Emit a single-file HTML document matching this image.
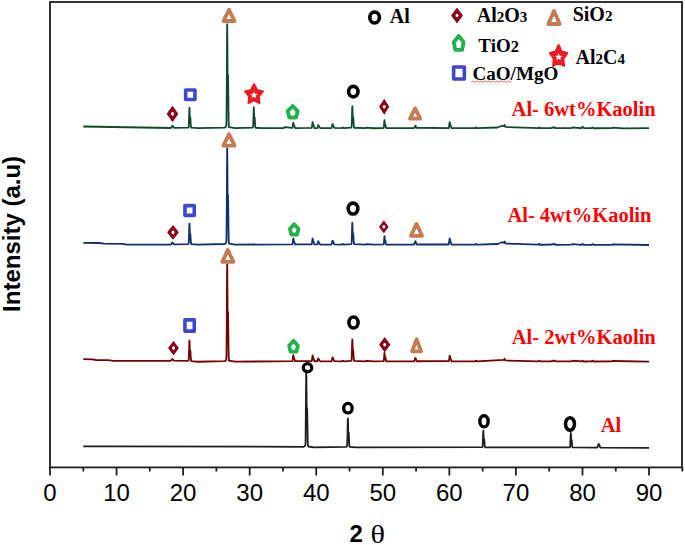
<!DOCTYPE html>
<html><head><meta charset="utf-8"><style>
html,body{margin:0;padding:0;background:#fff;width:685px;height:545px;overflow:hidden}
svg{display:block}
</style></head><body>
<svg width="685" height="545" viewBox="0 0 685 545">
<rect width="685" height="545" fill="#fff"/>
<rect x="50" y="2" width="632" height="465.4" fill="none" stroke="#1e1e1e" stroke-width="1.8"/>
<path d="M50 467V475.5 M116.56 467V475.5 M183.12 467V475.5 M249.68 467V475.5 M316.24 467V475.5 M382.8 467V475.5 M449.36 467V475.5 M515.92 467V475.5 M582.48 467V475.5 M649.04 467V475.5 M83.28 467V471.5 M149.84 467V471.5 M216.4 467V471.5 M282.96 467V471.5 M349.52 467V471.5 M416.08 467V471.5 M482.64 467V471.5 M549.2 467V471.5 M615.76 467V471.5 M682.32 467V471.5" stroke="#1e1e1e" stroke-width="1.8" fill="none"/>
<g font-family="'Liberation Sans', sans-serif" font-size="24" fill="#000"><text x="50" y="501" text-anchor="middle">0</text><text x="116.56" y="501" text-anchor="middle">10</text><text x="183.12" y="501" text-anchor="middle">20</text><text x="249.68" y="501" text-anchor="middle">30</text><text x="316.24" y="501" text-anchor="middle">40</text><text x="382.8" y="501" text-anchor="middle">50</text><text x="449.36" y="501" text-anchor="middle">60</text><text x="515.92" y="501" text-anchor="middle">70</text><text x="582.48" y="501" text-anchor="middle">80</text><text x="649.04" y="501" text-anchor="middle">90</text></g>
<text x="349.5" y="542.3" font-family="'Liberation Sans', sans-serif" font-weight="bold" font-size="24">2</text>
<text transform="translate(370.6,542.6) scale(1.26,1.05)" font-family="'Liberation Serif', serif" font-size="24">θ</text>
<text transform="translate(19.95,311.9) rotate(-90)" font-family="'Liberation Sans', sans-serif" font-weight="bold" font-size="24">Intensity (a.u)</text>
<g fill="none" stroke-width="1.8" stroke-linejoin="round">
<path d="M83.28 126.5 L170.61 128.02 L171.14 127.67 L172.34 125.68 L172.6 125.68 L173.93 127.81 L187.98 127.72 L188.51 127.36 L188.64 127.01 L188.78 126.07 L189.31 109.8 L189.44 107.7 L189.58 109.48 L189.84 117.56 L189.98 119.13 L190.24 117.68 L190.38 118.03 L190.91 126.71 L191.17 127.72 L198.1 128.17 L224.65 127.59 L225.85 126.69 L226.12 126.22 L226.25 125.64 L226.38 123.98 L226.52 119.32 L226.78 88.2 L227.05 35.12 L227.18 24.21 L227.32 33.47 L227.58 75.35 L227.72 83.34 L227.98 75.33 L228.05 75.01 L228.65 121.56 L228.78 125.24 L228.91 126.65 L229.05 127.13 L235.17 128.13 L252.34 127.72 L252.87 127.35 L253.01 126.99 L253.14 126.03 L253.41 119.84 L253.67 109.36 L253.81 107.21 L254.21 117.31 L254.34 118.92 L254.61 117.43 L254.74 117.8 L255.27 126.68 L255.4 127.43 L255.54 127.73 L261.99 128.19 L283.63 128.11 L284.82 127.04 L285.09 127.04 L292.28 127.96 L292.61 127.23 L293.28 122.72 L293.94 125.1 L294.21 125.41 L295.07 128.06 L311.58 127.93 L311.91 127.1 L312.58 122.02 L313.24 124.7 L313.51 125.05 L314.38 128.03 L317.3 128.02 L317.7 127.19 L318.24 125.01 L320.1 128.14 L331.22 128.09 L331.48 127.93 L331.75 127.42 L332.41 124.32 L332.55 124.03 L332.68 124.02 L334.28 127.91 L341.93 128.12 L342.73 127.45 L343 127.45 L343.93 128.15 L350.85 127.72 L351.25 127.5 L351.52 126.96 L351.65 125.95 L351.92 119.47 L352.18 108.49 L352.32 106.24 L352.45 108.15 L352.71 116.82 L352.85 118.51 L353.11 116.95 L353.25 117.33 L353.91 127.42 L354.05 127.73 L365.23 128.16 L366.16 127.63 L374.01 128.23 L383.4 127.98 L383.67 127.78 L383.8 127.41 L384.06 125.05 L384.33 121.06 L384.46 120.24 L384.6 120.94 L384.86 124.09 L385 124.71 L385.26 124.14 L385.4 124.28 L385.93 127.66 L386.19 128.06 L413.95 128.11 L414.35 127.77 L415.28 125.82 L415.41 125.75 L415.81 126.29 L416.48 127.77 L448.49 128.07 L448.83 127.81 L449.69 122.26 L450.36 124.86 L450.62 125.2 L451.49 128.09 L475.05 128.17 L475.85 127.5 L476.12 127.5 L477.05 128.21 L497.68 127.5 L501.94 125.76 L503.81 126.16 L504.07 125.89 L504.47 125 L504.6 124.94 L505.4 126.97 L538.28 128.17 L539.08 127.42 L539.35 127.42 L540.15 128.17 L551.06 128.09 L552.53 127.47 L553.73 127.78 L554.39 127.25 L554.66 127.29 L555.59 128.21 L571.03 128.1 L572.5 127.49 L581.02 128.12 L581.68 127.7 L582.35 126.74 L582.48 126.69 L583.68 128.02 L591.53 128.18 L592.33 127.43 L592.6 127.43 L593.53 128.23 L611.5 128.13 L612.43 127.7 L623.41 128.28 L649.04 128.2" stroke="#0f4a2a"/>
<path d="M83.28 242.8 L99.25 243 L104.25 243.66 L122.22 243.85 L127.21 244.6 L170.74 244.48 L171.41 243.94 L172.34 242.64 L172.6 242.64 L173.93 244.34 L187.98 244.13 L188.51 243.76 L188.64 243.4 L188.78 242.44 L189.31 225.77 L189.44 223.62 L189.58 225.44 L189.84 233.72 L189.98 235.33 L190.24 233.84 L190.38 234.21 L190.91 243.09 L191.17 244.13 L198.1 244.59 L224.65 244.02 L225.85 243.11 L226.12 242.65 L226.25 242.09 L226.38 240.54 L226.52 236.2 L226.78 207.38 L227.05 158.23 L227.18 148.13 L227.32 156.7 L227.58 195.48 L227.72 202.89 L227.98 195.52 L228.05 195.23 L228.65 238.37 L228.78 241.8 L228.91 243.11 L229.05 243.56 L235.17 244.56 L292.08 244.46 L292.34 244.29 L292.61 243.53 L293.14 238.95 L293.28 238.45 L293.41 238.71 L293.81 240.91 L294.21 241.49 L295.01 244.42 L311.58 244.36 L311.91 243.53 L312.58 238.44 L313.24 241.12 L313.51 241.48 L314.38 244.46 L317.3 244.43 L317.7 243.52 L318.24 241.14 L320.1 244.57 L331.22 244.52 L331.48 244.37 L331.75 243.89 L332.41 240.94 L332.55 240.65 L332.68 240.65 L334.28 244.36 L341.93 244.55 L342.73 243.88 L343 243.88 L343.93 244.58 L350.85 244.15 L351.25 243.93 L351.52 243.39 L351.65 242.38 L351.92 235.9 L352.18 224.92 L352.32 222.67 L352.45 224.58 L352.71 233.25 L352.85 234.94 L353.11 233.38 L353.25 233.76 L353.91 243.85 L354.05 244.16 L365.23 244.59 L366.16 244.06 L374.01 244.66 L383.4 244.39 L383.67 244.18 L383.8 243.8 L384.06 241.29 L384.33 237.05 L384.46 236.18 L384.6 236.92 L384.86 240.27 L385 240.92 L385.26 240.32 L385.4 240.46 L385.93 244.06 L386.19 244.48 L413.82 244.55 L414.22 244.24 L415.28 241.28 L415.41 241.19 L415.55 241.28 L416.48 244.02 L416.88 244.49 L448.49 244.51 L448.83 244.24 L449.69 238.5 L450.36 241.18 L450.62 241.54 L451.49 244.53 L475.05 244.64 L475.85 243.97 L476.12 243.98 L477.05 244.68 L497.68 244 L501.94 242.26 L503.81 242.67 L504.07 242.4 L504.47 241.51 L504.6 241.45 L505.4 243.48 L538.28 244.72 L539.08 243.97 L539.35 243.98 L540.15 244.73 L551.06 244.66 L552.53 244.04 L553.73 244.36 L554.39 243.82 L554.66 243.86 L555.59 244.78 L571.03 244.69 L572.5 244.08 L581.55 244.78 L582.35 243.94 L582.61 243.94 L583.54 244.83 L591.53 244.8 L592.33 244.05 L592.6 244.06 L593.53 244.85 L611.5 244.78 L612.43 244.34 L649.04 245" stroke="#12306a"/>
<path d="M83.28 359.2 L92.27 359.45 L96.26 360 L108.24 360.14 L113.23 360.8 L170.74 360.83 L171.41 360.3 L172.34 359 L172.6 359 L173.93 360.7 L188.11 360.82 L188.51 360.55 L188.64 360.19 L188.78 359.24 L189.31 342.61 L189.44 340.47 L189.58 342.31 L189.84 350.61 L189.98 352.22 L190.24 350.76 L190.38 351.13 L190.91 360.05 L191.17 361.12 L197.43 361.77 L224.65 361.19 L225.85 360.28 L226.12 359.81 L226.25 359.26 L226.38 357.69 L226.52 353.31 L226.78 324.18 L227.05 274.51 L227.18 264.3 L227.32 272.96 L227.58 312.16 L227.72 319.64 L227.98 312.19 L228.05 311.9 L228.65 355.49 L228.78 358.95 L228.91 360.28 L229.05 360.72 L235.17 361.68 L292.08 361.21 L292.34 361.04 L292.61 360.29 L293.14 355.7 L293.28 355.2 L293.41 355.46 L293.81 357.66 L294.21 358.24 L295.01 361.18 L311.58 361.13 L311.91 360.33 L312.58 355.4 L313.24 358 L313.51 358.34 L314.38 361.23 L317.37 361.17 L318.24 358.4 L320.17 361.35 L331.22 361.29 L331.48 361.14 L331.75 360.65 L332.41 357.7 L332.55 357.42 L332.68 357.41 L334.28 361.12 L341.93 361.31 L342.73 360.64 L343 360.64 L343.93 361.35 L350.85 360.92 L351.25 360.7 L351.52 360.16 L351.65 359.15 L351.92 352.67 L352.18 341.69 L352.32 339.43 L352.45 341.35 L352.71 350.02 L352.85 351.71 L353.11 350.15 L353.25 350.53 L353.91 360.62 L354.05 360.93 L365.23 361.36 L366.16 360.83 L374.01 361.44 L383.4 361.17 L383.67 360.96 L383.8 360.57 L384.06 358.06 L384.33 353.82 L384.46 352.95 L384.6 353.69 L384.86 357.04 L385 357.69 L385.26 357.09 L385.4 357.24 L385.93 360.83 L386.19 361.26 L413.82 361.34 L414.22 361.02 L415.28 358.06 L415.41 357.97 L415.55 358.06 L416.48 360.8 L416.88 361.27 L448.69 361.22 L449.03 360.45 L449.69 355.69 L450.36 358.2 L450.62 358.53 L451.49 361.33 L475.05 361.41 L475.85 360.74 L476.12 360.74 L477.05 361.45 L503.81 359.82 L504.07 359.59 L504.47 358.85 L504.6 358.79 L505.4 360.47 L538.28 361.43 L539.08 360.68 L539.35 360.68 L540.15 361.43 L551.06 361.35 L552.53 360.73 L553.73 361.05 L554.39 360.51 L554.66 360.55 L555.59 361.47 L571.03 361.37 L572.5 360.76 L581.55 361.44 L582.35 360.61 L582.61 360.61 L583.54 361.49 L591.53 361.46 L592.33 360.71 L592.6 360.71 L593.53 361.5 L611.5 361.41 L612.43 360.98 L649.04 361.6" stroke="#750000"/>
<path d="M83.28 446.3 L111.24 446.4 L303.59 446.82 L304.79 446.02 L305.19 445.42 L305.32 444.93 L305.46 443.65 L305.59 440.17 L306.12 378.37 L306.26 370.38 L306.39 377.17 L306.66 407.88 L306.79 413.79 L307.05 408.07 L307.19 409.35 L307.72 442.16 L307.99 445.96 L308.25 446.49 L314.11 447.32 L345.99 446.95 L346.86 446.39 L347.06 445.76 L347.19 444.44 L347.46 435.89 L347.72 421.41 L347.86 418.44 L347.99 420.97 L348.26 432.4 L348.39 434.62 L348.65 432.57 L348.79 433.07 L349.32 445.34 L349.45 446.37 L349.59 446.78 L355.84 447.42 L481.97 447.21 L482.37 446.96 L482.51 446.66 L482.64 445.89 L482.91 440.87 L483.17 432.39 L483.31 430.65 L483.44 432.13 L483.7 438.83 L483.84 440.13 L484.1 438.93 L484.24 439.22 L484.77 446.42 L484.9 447.02 L485.17 447.35 L569.63 447.34 L569.9 447.17 L570.03 446.91 L570.17 446.23 L570.7 434.32 L570.83 432.78 L570.97 434.09 L571.23 440 L571.36 441.15 L571.63 440.09 L571.76 440.35 L572.3 446.69 L572.56 447.44 L596.79 447.7 L597.32 447.31 L598.52 444.28 L598.79 444.02 L599.05 444.28 L600.12 447.12 L600.78 447.7 L649.04 447.9" stroke="#1e1e1e"/>
</g>
<ellipse cx="374.6" cy="17.5" rx="4.8" ry="5.45" fill="none" stroke="#000" stroke-width="3.6"/><polygon points="457,8.55 462.3,15.5 457,22.45 451.7,15.5" fill="#8a0019" stroke="#8a0019" stroke-width="1.2" stroke-linejoin="round"/><ellipse cx="457" cy="15.5" rx="1.5" ry="1.8" fill="#fff"/><polygon points="554,11 559.7,24 548.3,24" fill="#fff" stroke="#c47b52" stroke-width="3.8" stroke-linejoin="round"/><polygon points="458.7,36 463.65,42.21 462.07,49.8 455.33,49.8 453.75,42.21" fill="#fff" stroke="#22b14c" stroke-width="3.8" stroke-linejoin="round"/><polygon points="558.6,45 561.6,51.44 567.43,53.02 563.45,58.57 564.05,65.98 558.6,62.98 553.15,65.98 553.75,58.57 549.77,53.02 555.6,51.44" fill="#ed1c24" stroke="#ed1c24" stroke-width="2" stroke-linejoin="round"/><polygon points="558.6,53.3 559.6,55.72 562.21,55.93 560.22,57.63 560.83,60.17 558.6,58.8 556.37,60.17 556.98,57.63 554.99,55.93 557.6,55.72" fill="#fff"/><rect x="453.65" y="67" width="10.7" height="12" fill="#fff" stroke="#3f48cc" stroke-width="3.6" stroke-linejoin="round"/><polygon points="172.5,106.6 177.55,113.9 172.5,121.2 167.45,113.9" fill="#8a0019" stroke="#8a0019" stroke-width="1.2" stroke-linejoin="round"/><ellipse cx="172.5" cy="113.9" rx="1.5" ry="1.8" fill="#fff"/><rect x="185.65" y="90.05" width="9.3" height="9.5" fill="#fff" stroke="#3f48cc" stroke-width="3.6" stroke-linejoin="round"/><polygon points="229,9.8 234.55,21 223.45,21" fill="#fff" stroke="#c47b52" stroke-width="3.8" stroke-linejoin="round"/><polygon points="254,84.2 257.03,89.97 262.9,91.39 258.9,96.37 259.5,103.01 254,100.32 248.5,103.01 249.1,96.37 245.1,91.39 250.97,89.97" fill="#ed1c24" stroke="#ed1c24" stroke-width="2" stroke-linejoin="round"/><polygon points="254,91.3 255,93.72 257.61,93.93 255.62,95.63 256.23,98.17 254,96.8 251.77,98.17 252.38,95.63 250.39,93.93 253,93.72" fill="#fff"/><polygon points="292.7,106 297.65,111.17 296.07,117.5 289.33,117.5 287.75,111.17" fill="#fff" stroke="#22b14c" stroke-width="3.8" stroke-linejoin="round"/><ellipse cx="353.3" cy="91.6" rx="4.75" ry="5.25" fill="none" stroke="#000" stroke-width="3.6"/><polygon points="384.2,99.8 388.6,106.8 384.2,113.8 379.8,106.8" fill="#8a0019" stroke="#8a0019" stroke-width="1.2" stroke-linejoin="round"/><ellipse cx="384.2" cy="106.8" rx="1.5" ry="1.8" fill="#fff"/><polygon points="415.1,108.4 420.2,118.6 410,118.6" fill="#fff" stroke="#c47b52" stroke-width="3.8" stroke-linejoin="round"/><polygon points="173,226 178.15,232.4 173,238.8 167.85,232.4" fill="#8a0019" stroke="#8a0019" stroke-width="1.2" stroke-linejoin="round"/><ellipse cx="173" cy="232.4" rx="1.5" ry="1.8" fill="#fff"/><rect x="184.95" y="205.6" width="9.3" height="9.8" fill="#fff" stroke="#3f48cc" stroke-width="3.6" stroke-linejoin="round"/><polygon points="229,134.2 234.55,145.7 223.45,145.7" fill="#fff" stroke="#c47b52" stroke-width="3.8" stroke-linejoin="round"/><polygon points="294.2,224.3 298.45,228.89 297.09,234.5 291.31,234.5 289.95,228.89" fill="#fff" stroke="#22b14c" stroke-width="3.8" stroke-linejoin="round"/><ellipse cx="353" cy="208.6" rx="4.85" ry="5.45" fill="none" stroke="#000" stroke-width="3.6"/><polygon points="383.8,221.3 387.85,226.8 383.8,232.3 379.75,226.8" fill="#8a0019" stroke="#8a0019" stroke-width="1.2" stroke-linejoin="round"/><ellipse cx="383.8" cy="226.8" rx="1.5" ry="1.8" fill="#fff"/><polygon points="416.5,223.9 422.05,235.8 410.95,235.8" fill="#fff" stroke="#c47b52" stroke-width="3.8" stroke-linejoin="round"/><polygon points="173.5,341.8 178.15,348.1 173.5,354.4 168.85,348.1" fill="#8a0019" stroke="#8a0019" stroke-width="1.2" stroke-linejoin="round"/><ellipse cx="173.5" cy="348.1" rx="1.5" ry="1.8" fill="#fff"/><rect x="184.95" y="319.85" width="9.3" height="11.3" fill="#fff" stroke="#3f48cc" stroke-width="3.6" stroke-linejoin="round"/><polygon points="227.8,250 233.35,261.8 222.25,261.8" fill="#fff" stroke="#c47b52" stroke-width="3.8" stroke-linejoin="round"/><polygon points="293.5,340.8 297.9,345.66 296.49,351.6 290.51,351.6 289.1,345.66" fill="#fff" stroke="#22b14c" stroke-width="3.8" stroke-linejoin="round"/><ellipse cx="353.5" cy="322.5" rx="4.6" ry="5.55" fill="none" stroke="#000" stroke-width="3.6"/><polygon points="384.7,338 389.6,344.7 384.7,351.4 379.8,344.7" fill="#8a0019" stroke="#8a0019" stroke-width="1.2" stroke-linejoin="round"/><ellipse cx="384.7" cy="344.7" rx="1.5" ry="1.8" fill="#fff"/><polygon points="416.6,339.3 421.1,351.3 412.1,351.3" fill="#fff" stroke="#c47b52" stroke-width="3.8" stroke-linejoin="round"/><ellipse cx="307.5" cy="367.7" rx="4.25" ry="4.05" fill="none" stroke="#000" stroke-width="3.2"/><ellipse cx="347.9" cy="408.2" rx="4.25" ry="4.75" fill="none" stroke="#000" stroke-width="3.3"/><ellipse cx="484" cy="421.3" rx="4.15" ry="5.6" fill="none" stroke="#000" stroke-width="3.4"/><ellipse cx="570" cy="424" rx="4.5" ry="6.15" fill="none" stroke="#000" stroke-width="3.5"/>
<text x="389.8" y="22.6" font-family="'Liberation Serif', serif" font-weight="bold" font-size="20" fill="#000">Al</text>
<text x="476.8" y="21.5" font-family="'Liberation Serif', serif" font-weight="bold" font-size="20" fill="#000">Al<tspan font-size="15">2</tspan>O<tspan font-size="15">3</tspan></text>
<text x="572.7" y="21.4" font-family="'Liberation Serif', serif" font-weight="bold" font-size="20" fill="#000">SiO<tspan font-size="15">2</tspan></text>
<text x="478.3" y="52" font-family="'Liberation Serif', serif" font-weight="bold" font-size="19" fill="#000">TiO<tspan font-size="16.5">2</tspan></text>
<text x="575.6" y="63.6" font-family="'Liberation Serif', serif" font-weight="bold" font-size="20" fill="#000">Al<tspan font-size="15">2</tspan>C<tspan font-size="15">4</tspan></text>
<text x="472.4" y="79.6" font-family="'Liberation Serif', serif" font-weight="bold" font-size="19.1" fill="#000">CaO/MgO</text>
<path d="M471.4 81.6 q1 -1.2 2 0 t2 0 t2 0 t2 0 t2 0 t2 0 t2 0 t2 0 t2 0 t2 0 t2 0 t2 0 t2 0 t2 0 t2 0 t2 0 t2 0 t2 0 t2 0 t2 0" stroke="#ee5555" stroke-width="1" fill="none"/>
<g font-family="'Liberation Serif', serif" font-weight="bold" font-size="20.5" fill="#ff0000">
<text x="511.6" y="115.9">Al- 6wt%Kaolin</text>
<text x="507.4" y="221.6">Al- 4wt%Kaolin</text>
<text x="511.7" y="343.6">Al- 2wt%Kaolin</text>
<text x="600.8" y="432.4">Al</text>
</g>
</svg>
</body></html>
